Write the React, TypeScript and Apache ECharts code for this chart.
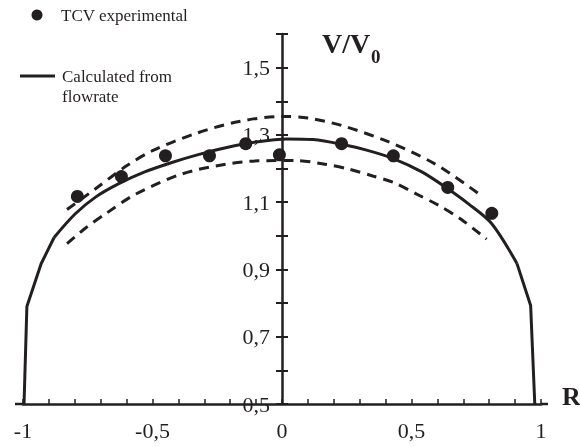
import React, { useEffect, useRef } from 'react';
import * as echarts from 'echarts';

// TCV experimental points
const expR = [-0.79, -0.62, -0.45, -0.28, -0.14, -0.01, 0.23, 0.43, 0.64, 0.81];
const expV = [1.117, 1.176, 1.238, 1.238, 1.274, 1.241, 1.274, 1.238, 1.144, 1.067];

// Calculated from flowrate (solid)
const calcR = [-0.996, -0.985, -0.93, -0.88, -0.8, -0.72, -0.63, -0.53, -0.425, -0.32, -0.217, -0.1, 0.02, 0.12, 0.23, 0.33, 0.432, 0.54, 0.64, 0.72, 0.81, 0.907, 0.96, 0.976];
const calcV = [0.5, 0.79, 0.917, 0.995, 1.064, 1.115, 1.155, 1.19, 1.218, 1.242, 1.262, 1.279, 1.288, 1.286, 1.272, 1.254, 1.229, 1.19, 1.14, 1.095, 1.036, 0.918, 0.793, 0.5];
// the wall segments of the solid curve are straight, the core is smooth
const CORE_START = 3;
const CORE_END = 21;

// Upper dashed bound
const upperR = [-0.83, -0.72, -0.6, -0.5, -0.33, -0.166, 0, 0.1, 0.23, 0.41, 0.59, 0.76];
const upperV = [1.078, 1.14, 1.208, 1.253, 1.305, 1.34, 1.355, 1.35, 1.328, 1.28, 1.214, 1.125];

// Lower dashed bound
const lowerR = [-0.83, -0.757, -0.68, -0.565, -0.386, -0.217, -0.09, 0.05, 0.166, 0.26, 0.35, 0.43, 0.52, 0.606, 0.69, 0.79];
const lowerV = [0.977, 1.024, 1.066, 1.124, 1.184, 1.213, 1.223, 1.224, 1.213, 1.198, 1.178, 1.159, 1.124, 1.09, 1.05, 0.99];

const xTickLabels = ['-1', '-0,5', '0', '0,5', '1'];
const yTickLabels = ['0,5', '0,7', '0,9', '1,1', '1,3', '1,5'];

const INK = '#231f20';
const SERIF = "'Liberation Serif', 'DejaVu Serif', serif";

const fmt = (v: number) => String(Math.round(v * 10) / 10).replace('.', ',');
const zip = (a: number[], b: number[]) => a.map((x, i) => [x, b[i]]);

export default function App() {
  const ref = useRef<HTMLDivElement>(null);
  useEffect(() => {
    if (!ref.current) return;
    const chart = echarts.init(ref.current, null, { renderer: 'svg' });
    const yBase = {
      type: 'value',
      min: 0.5,
      max: 1.6,
      interval: 0.1,
      splitLine: { show: false },
    };
    const calc = zip(calcR, calcV);
    const solid = { color: INK, width: 3 };
    chart.setOption({
      animation: false,
      grid: { left: 23, right: 39, top: 34, bottom: 43, outerBoundsMode: 'none', containLabel: false },
      xAxis: {
        type: 'value',
        min: -1,
        max: 1,
        interval: 0.1,
        axisLine: { onZero: false, lineStyle: { color: INK, width: 2.5 } },
        axisTick: { inside: true, length: 5, lineStyle: { color: INK, width: 1.5 } },
        splitLine: { show: false },
        axisLabel: {
          color: INK,
          fontFamily: SERIF,
          fontSize: 22,
          margin: 15,
          formatter: (v: number) => {
            const s = fmt(v);
            return xTickLabels.includes(s) ? s : '';
          },
        },
      },
      yAxis: [
        {
          ...yBase,
          position: 'left',
          axisLine: { show: true, onZero: false, lineStyle: { color: INK, width: 2.5 } },
          axisTick: { show: true, inside: false, length: 6, lineStyle: { color: INK, width: 2 } },
          axisLabel: {
            color: INK,
            fontFamily: SERIF,
            fontSize: 22,
            margin: 12,
            formatter: (v: number) => {
              const s = fmt(v);
              return yTickLabels.includes(s) ? s : '';
            },
          },
        },
        {
          ...yBase,
          position: 'right',
          axisLine: { show: false, onZero: false },
          axisTick: { show: true, inside: false, length: 6, lineStyle: { color: INK, width: 2 } },
          axisLabel: { show: false },
        },
      ],
      series: [
        {
          name: 'upper',
          type: 'line',
          data: zip(upperR, upperV),
          smooth: 0.3,
          showSymbol: false,
          lineStyle: { color: INK, width: 3, type: [10, 7] },
        },
        {
          name: 'lower',
          type: 'line',
          data: zip(lowerR, lowerV),
          smooth: 0.3,
          showSymbol: false,
          lineStyle: { color: INK, width: 3, type: [10, 7] },
        },
        {
          name: 'Calculated from flowrate',
          type: 'line',
          data: calc.slice(CORE_START, CORE_END + 1),
          smooth: 0.3,
          showSymbol: false,
          lineStyle: solid,
        },
        {
          name: 'Calculated wall left',
          type: 'line',
          data: calc.slice(0, CORE_START + 1),
          showSymbol: false,
          lineStyle: solid,
        },
        {
          name: 'Calculated wall right',
          type: 'line',
          data: calc.slice(CORE_END),
          showSymbol: false,
          lineStyle: solid,
        },
        {
          name: 'TCV experimental',
          type: 'scatter',
          data: zip(expR, expV),
          symbolSize: 13,
          itemStyle: { color: INK, opacity: 1 },
        },
      ],
    });

    const pL = chart.convertToPixel({ gridIndex: 0 }, [-1, 0.5]) as number[];
    const pR = chart.convertToPixel({ gridIndex: 0 }, [1, 0.5]) as number[];
    const p0 = chart.convertToPixel({ gridIndex: 0 }, [0, 0.5]) as number[];
    chart.setOption({
      yAxis: [
        { offset: -(p0[0] - pL[0]) },
        { offset: -(pR[0] - p0[0]) },
      ],
      graphic: [
        { type: 'line', shape: { x1: pL[0] - 8, y1: pL[1], x2: pL[0], y2: pL[1] }, style: { stroke: INK, lineWidth: 2.5 } },
        { type: 'line', shape: { x1: pR[0], y1: pR[1], x2: pR[0] + 7, y2: pR[1] }, style: { stroke: INK, lineWidth: 2.5 } },
        { type: 'circle', shape: { cx: 37, cy: 15, r: 5.5 }, style: { fill: INK } },
        { type: 'text', x: 61, y: 15, style: { text: 'TCV experimental', font: `17px ${SERIF}`, fill: INK, verticalAlign: 'middle' } },
        { type: 'line', shape: { x1: 20, y1: 76, x2: 55, y2: 76 }, style: { stroke: INK, lineWidth: 3 } },
        { type: 'text', x: 62, y: 76, style: { text: 'Calculated from', font: `17px ${SERIF}`, fill: INK, verticalAlign: 'middle' } },
        { type: 'text', x: 62, y: 96, style: { text: 'flowrate', font: `17px ${SERIF}`, fill: INK, verticalAlign: 'middle' } },
        { type: 'text', x: 322, y: 43, style: { text: 'V/V', font: `bold 28px ${SERIF}`, fill: INK, verticalAlign: 'middle' } },
        { type: 'text', x: 371, y: 56, style: { text: '0', font: `bold 19px ${SERIF}`, fill: INK, verticalAlign: 'middle' } },
        { type: 'text', x: 562, y: 396, style: { text: 'R', font: `bold 26px ${SERIF}`, fill: INK, verticalAlign: 'middle' } },
      ],
    });

    return () => chart.dispose();
  }, []);
  return <div ref={ref} style={{ position: 'fixed', left: 0, top: 0, width: 580, height: 447 }} />;
}
